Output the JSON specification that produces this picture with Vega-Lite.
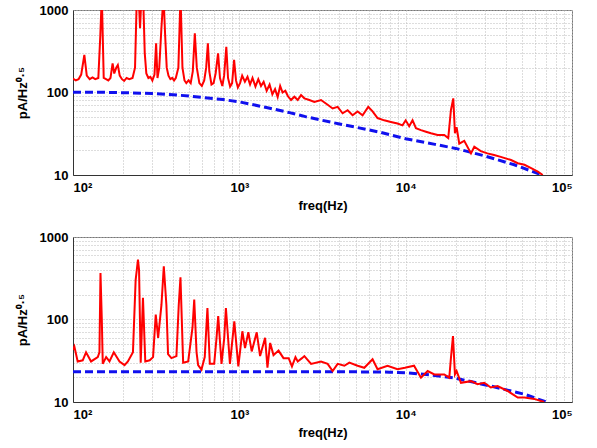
{
  "$schema": "https://vega.github.io/schema/vega-lite/v6.json",
  "padding": {"left": 15, "top": 3, "right": 2, "bottom": 0},
  "background": "white",
  "spacing": 17,
  "config": {
    "view": {"stroke": "#777", "strokeWidth": 1},
    "axis": {
      "labelFont": "Liberation Sans",
      "labelFontWeight": "bold",
      "labelFontSize": 13,
      "labelColor": "black",
      "titleFont": "Liberation Sans",
      "titleFontWeight": "bold",
      "titleFontSize": 13,
      "titleColor": "black",
      "domainColor": "#333",
      "gridColor": "#bbbbbb",
      "gridDash": [1, 2],
      "gridWidth": 1,
      "ticks": false
    }
  },
  "datasets": {
    "topRed": [
      {"f": 100, "v": 148}, {"f": 104, "v": 140}, {"f": 108, "v": 145}, {"f": 112, "v": 165}, {"f": 117, "v": 285}, {"f": 121, "v": 160},
      {"f": 126, "v": 145}, {"f": 131, "v": 152}, {"f": 136, "v": 145}, {"f": 142, "v": 150}, {"f": 146, "v": 500}, {"f": 149, "v": 1500},
      {"f": 153, "v": 150}, {"f": 158, "v": 145}, {"f": 163, "v": 140}, {"f": 168, "v": 150}, {"f": 173, "v": 225}, {"f": 177, "v": 170},
      {"f": 182, "v": 200}, {"f": 186, "v": 215}, {"f": 191, "v": 160}, {"f": 197, "v": 145}, {"f": 203, "v": 138}, {"f": 210, "v": 150},
      {"f": 218, "v": 145}, {"f": 228, "v": 150}, {"f": 236, "v": 200}, {"f": 242, "v": 1500}, {"f": 248, "v": 1500}, {"f": 253, "v": 600},
      {"f": 258, "v": 1500}, {"f": 264, "v": 1500}, {"f": 270, "v": 300}, {"f": 276, "v": 170}, {"f": 284, "v": 150}, {"f": 292, "v": 155},
      {"f": 300, "v": 140}, {"f": 309, "v": 165}, {"f": 316, "v": 394}, {"f": 322, "v": 150}, {"f": 330, "v": 200}, {"f": 340, "v": 600},
      {"f": 350, "v": 1500}, {"f": 358, "v": 500}, {"f": 366, "v": 200}, {"f": 375, "v": 160}, {"f": 385, "v": 145}, {"f": 395, "v": 150},
      {"f": 405, "v": 140}, {"f": 415, "v": 150}, {"f": 430, "v": 200}, {"f": 443, "v": 1500}, {"f": 455, "v": 200}, {"f": 468, "v": 140},
      {"f": 480, "v": 130}, {"f": 495, "v": 140}, {"f": 510, "v": 130}, {"f": 525, "v": 180}, {"f": 540, "v": 521}, {"f": 555, "v": 200},
      {"f": 575, "v": 130}, {"f": 595, "v": 120}, {"f": 615, "v": 140}, {"f": 632, "v": 200}, {"f": 647, "v": 394}, {"f": 660, "v": 180},
      {"f": 680, "v": 125}, {"f": 700, "v": 130}, {"f": 720, "v": 170}, {"f": 745, "v": 298}, {"f": 765, "v": 150}, {"f": 790, "v": 120},
      {"f": 810, "v": 160}, {"f": 835, "v": 359}, {"f": 855, "v": 150}, {"f": 880, "v": 118}, {"f": 905, "v": 130}, {"f": 930, "v": 248},
      {"f": 955, "v": 140}, {"f": 980, "v": 115}, {"f": 1010, "v": 130}, {"f": 1040, "v": 160}, {"f": 1080, "v": 135}, {"f": 1120, "v": 155},
      {"f": 1160, "v": 125}, {"f": 1200, "v": 150}, {"f": 1250, "v": 118}, {"f": 1300, "v": 145}, {"f": 1350, "v": 120}, {"f": 1400, "v": 135},
      {"f": 1460, "v": 105}, {"f": 1520, "v": 125}, {"f": 1580, "v": 95}, {"f": 1640, "v": 110}, {"f": 1700, "v": 88}, {"f": 1760, "v": 120},
      {"f": 1820, "v": 100}, {"f": 1890, "v": 105}, {"f": 1960, "v": 90}, {"f": 2046, "v": 81}, {"f": 2142, "v": 89}, {"f": 2244, "v": 81},
      {"f": 2350, "v": 93}, {"f": 2460, "v": 85}, {"f": 2636, "v": 81}, {"f": 2825, "v": 77}, {"f": 3097, "v": 81}, {"f": 3396, "v": 71},
      {"f": 3639, "v": 64}, {"f": 3899, "v": 67}, {"f": 4178, "v": 56}, {"f": 4477, "v": 61}, {"f": 4797, "v": 53}, {"f": 5140, "v": 59},
      {"f": 5508, "v": 53}, {"f": 5957, "v": 67}, {"f": 6324, "v": 59}, {"f": 6776, "v": 49}, {"f": 7430, "v": 46}, {"f": 8147, "v": 44},
      {"f": 8933, "v": 42}, {"f": 9572, "v": 40}, {"f": 10000, "v": 46}, {"f": 10500, "v": 39}, {"f": 11000, "v": 46}, {"f": 11530, "v": 37},
      {"f": 12360, "v": 35}, {"f": 13240, "v": 33.5}, {"f": 14190, "v": 32}, {"f": 15560, "v": 30.5}, {"f": 17060, "v": 30.5}, {"f": 18030, "v": 28},
      {"f": 18710, "v": 61}, {"f": 19330, "v": 85}, {"f": 19780, "v": 32}, {"f": 20240, "v": 38}, {"f": 21000, "v": 24}, {"f": 22500, "v": 26},
      {"f": 24700, "v": 18.3}, {"f": 25850, "v": 22}, {"f": 28300, "v": 19.5}, {"f": 31000, "v": 18.3}, {"f": 34000, "v": 17.5}, {"f": 37300, "v": 16.6},
      {"f": 43000, "v": 15.2}, {"f": 47200, "v": 13.9}, {"f": 51800, "v": 13.3}, {"f": 56800, "v": 12.1}, {"f": 62300, "v": 11.0}, {"f": 66700, "v": 10}
    ],
    "topBlue": [
      {"f": 100, "v": 101}, {"f": 150, "v": 100.5}, {"f": 200, "v": 99.5}, {"f": 300, "v": 97}, {"f": 400, "v": 94}, {"f": 500, "v": 90.5},
      {"f": 600, "v": 87}, {"f": 800, "v": 82}, {"f": 1000, "v": 77}, {"f": 1500, "v": 65}, {"f": 2000, "v": 57}, {"f": 2500, "v": 51},
      {"f": 3000, "v": 47}, {"f": 4000, "v": 41.5}, {"f": 5000, "v": 38}, {"f": 7000, "v": 33}, {"f": 10000, "v": 27.5}, {"f": 15000, "v": 23.5},
      {"f": 20000, "v": 21}, {"f": 30000, "v": 17}, {"f": 45000, "v": 13.3}, {"f": 66000, "v": 10}
    ],
    "botRed": [
      {"f": 100, "v": 43}, {"f": 101.9, "v": 47}, {"f": 106.7, "v": 31}, {"f": 114.4, "v": 32}, {"f": 119.8, "v": 40}, {"f": 128.4, "v": 31},
      {"f": 140.9, "v": 35}, {"f": 144.2, "v": 40}, {"f": 146.3, "v": 367}, {"f": 149, "v": 100}, {"f": 151, "v": 29}, {"f": 158.2, "v": 35},
      {"f": 165.7, "v": 31}, {"f": 175.9, "v": 40}, {"f": 190.4, "v": 31}, {"f": 204.1, "v": 28}, {"f": 213.8, "v": 31}, {"f": 229.3, "v": 40},
      {"f": 238, "v": 300}, {"f": 245.8, "v": 532}, {"f": 249.5, "v": 400}, {"f": 255.3, "v": 30}, {"f": 263.4, "v": 183}, {"f": 272, "v": 31},
      {"f": 289.1, "v": 32}, {"f": 302.9, "v": 35}, {"f": 314.4, "v": 115}, {"f": 324.9, "v": 60}, {"f": 340.2, "v": 150}, {"f": 351.5, "v": 442},
      {"f": 364.3, "v": 150}, {"f": 372.8, "v": 38}, {"f": 390.5, "v": 34}, {"f": 418.6, "v": 36}, {"f": 432.3, "v": 150}, {"f": 442.7, "v": 325},
      {"f": 459.4, "v": 30}, {"f": 492.6, "v": 31}, {"f": 523, "v": 80}, {"f": 535.6, "v": 175}, {"f": 553.1, "v": 40}, {"f": 565.3, "v": 28},
      {"f": 591.8, "v": 24.7}, {"f": 619.6, "v": 35}, {"f": 643, "v": 138}, {"f": 664.6, "v": 29}, {"f": 706.1, "v": 29}, {"f": 729.4, "v": 60},
      {"f": 746.5, "v": 110}, {"f": 781.4, "v": 29}, {"f": 811.5, "v": 60}, {"f": 830.4, "v": 138}, {"f": 877.9, "v": 29}, {"f": 911, "v": 60},
      {"f": 932.7, "v": 95}, {"f": 986, "v": 27}, {"f": 1043, "v": 72}, {"f": 1082, "v": 45}, {"f": 1133, "v": 70}, {"f": 1187, "v": 41},
      {"f": 1272, "v": 70}, {"f": 1333, "v": 36}, {"f": 1429, "v": 60}, {"f": 1476, "v": 26}, {"f": 1532, "v": 52}, {"f": 1605, "v": 37},
      {"f": 1720, "v": 42}, {"f": 1843, "v": 34}, {"f": 1980, "v": 34}, {"f": 2072, "v": 27}, {"f": 2175, "v": 35}, {"f": 2244, "v": 31},
      {"f": 2380, "v": 34}, {"f": 2460, "v": 36}, {"f": 2700, "v": 29}, {"f": 3097, "v": 31}, {"f": 3396, "v": 29}, {"f": 3639, "v": 23.7},
      {"f": 3899, "v": 29}, {"f": 4280, "v": 27.5}, {"f": 4586, "v": 30}, {"f": 5140, "v": 27.5}, {"f": 5640, "v": 26}, {"f": 6324, "v": 33},
      {"f": 6776, "v": 25}, {"f": 7780, "v": 27.5}, {"f": 8933, "v": 25}, {"f": 9900, "v": 26}, {"f": 11230, "v": 27.5}, {"f": 12360, "v": 19.7},
      {"f": 13560, "v": 23.7}, {"f": 14870, "v": 21.6}, {"f": 17060, "v": 21.6}, {"f": 18290, "v": 19.7}, {"f": 18710, "v": 34}, {"f": 19250, "v": 63},
      {"f": 19780, "v": 21.6}, {"f": 20240, "v": 23.7}, {"f": 21500, "v": 17.1}, {"f": 24700, "v": 17.9}, {"f": 27050, "v": 16.4}, {"f": 29660, "v": 17.1},
      {"f": 32500, "v": 15}, {"f": 35700, "v": 15.6}, {"f": 41000, "v": 13.6}, {"f": 47200, "v": 11.3}, {"f": 51800, "v": 11.3}, {"f": 59300, "v": 10.9},
      {"f": 68000, "v": 10}
    ],
    "botBlue": [
      {"f": 100, "v": 23.3}, {"f": 1000, "v": 23.3}, {"f": 5000, "v": 23.2}, {"f": 8000, "v": 23}, {"f": 10000, "v": 22.6}, {"f": 14000, "v": 21.3},
      {"f": 20000, "v": 19.4}, {"f": 32500, "v": 15.6}, {"f": 52000, "v": 12.4}, {"f": 70000, "v": 10}
    ]
  },
  "vconcat": [
    {
      "width": 499,
      "height": 165,
      "encoding": {
        "x": {
          "field": "f", "type": "quantitative",
          "scale": {"type": "log", "domain": [100, 100000], "nice": false},
          "axis": {
            "title": "freq(Hz)", "titlePadding": 5, "labelPadding": 6, "grid": true,
            "values": [100,200,300,400,500,600,700,800,900,1000,2000,3000,4000,5000,6000,7000,8000,9000,10000,20000,30000,40000,50000,60000,70000,80000,90000,100000],
            "labelExpr": "datum.value == 100 ? '10²' : datum.value == 1000 ? '10³' : datum.value == 10000 ? '10⁴' : datum.value == 100000 ? '10⁵' : ''"
          }
        },
        "y": {
          "field": "v", "type": "quantitative",
          "scale": {"type": "log", "domain": [10, 1000], "nice": false},
          "axis": {
            "title": "pA/Hz⁰·⁵", "titlePadding": 10, "labelPadding": 5, "grid": true,
            "values": [10,20,30,40,50,60,70,80,90,100,200,300,400,500,600,700,800,900,1000],
            "labelExpr": "datum.value == 10 || datum.value == 100 || datum.value == 1000 ? datum.value + '' : ''"
          }
        }
      },
      "layer": [
        {"data": {"name": "topBlue"}, "mark": {"type": "line", "color": "#1010ee", "strokeWidth": 3, "strokeDash": [8, 4], "clip": true}},
        {"data": {"name": "topRed"}, "mark": {"type": "line", "color": "#ff0000", "strokeWidth": 2, "clip": true}}
      ]
    },
    {
      "width": 499,
      "height": 165,
      "encoding": {
        "x": {
          "field": "f", "type": "quantitative",
          "scale": {"type": "log", "domain": [100, 100000], "nice": false},
          "axis": {
            "title": "freq(Hz)", "titlePadding": 5, "labelPadding": 6, "grid": true,
            "values": [100,200,300,400,500,600,700,800,900,1000,2000,3000,4000,5000,6000,7000,8000,9000,10000,20000,30000,40000,50000,60000,70000,80000,90000,100000],
            "labelExpr": "datum.value == 100 ? '10²' : datum.value == 1000 ? '10³' : datum.value == 10000 ? '10⁴' : datum.value == 100000 ? '10⁵' : ''"
          }
        },
        "y": {
          "field": "v", "type": "quantitative",
          "scale": {"type": "log", "domain": [10, 1000], "nice": false},
          "axis": {
            "title": "pA/Hz⁰·⁵", "titlePadding": 10, "labelPadding": 5, "grid": true,
            "values": [10,20,30,40,50,60,70,80,90,100,200,300,400,500,600,700,800,900,1000],
            "labelExpr": "datum.value == 10 || datum.value == 100 || datum.value == 1000 ? datum.value + '' : ''"
          }
        }
      },
      "layer": [
        {"data": {"name": "botBlue"}, "mark": {"type": "line", "color": "#1010ee", "strokeWidth": 3, "strokeDash": [8, 4], "clip": true}},
        {"data": {"name": "botRed"}, "mark": {"type": "line", "color": "#ff0000", "strokeWidth": 2, "clip": true}}
      ]
    }
  ]
}
